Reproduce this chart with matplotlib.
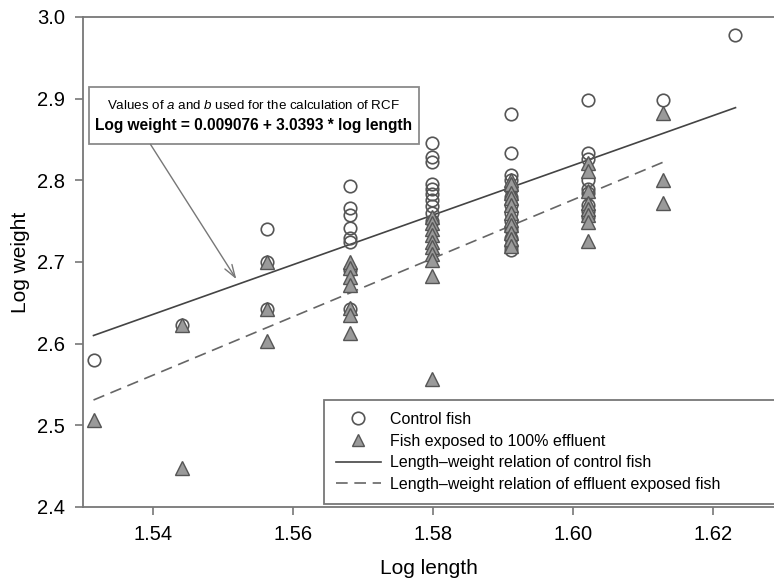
import matplotlib
matplotlib.use("Agg")
import matplotlib.pyplot as plt
from matplotlib.patches import Rectangle
from matplotlib.lines import Line2D

plt.rcParams['font.family'] = ['Liberation Sans', 'DejaVu Sans']
plt.rcParams['mathtext.fontset'] = 'custom'
plt.rcParams['mathtext.rm'] = 'Liberation Sans'
plt.rcParams['mathtext.it'] = 'Liberation Sans:italic'

# log length classes
len_34, len_35, len_36, len_37 = 1.5315, 1.5441, 1.5563, 1.5682
len_38, len_39, len_40, len_41, len_42 = 1.5798, 1.5911, 1.6021, 1.6128, 1.6232

# control fish (open circles)
ctrl_x = ([len_34] + [len_35] + [len_36] * 3 + [len_37] * 8 + [len_38] * 10 +
          [len_39] * 13 + [len_40] * 9 + [len_41] + [len_42])
ctrl_y = ([2.580] + [2.623] + [2.741, 2.700, 2.643] +
          [2.793, 2.766, 2.758, 2.742, 2.730, 2.724, 2.690, 2.643] +
          [2.846, 2.829, 2.822, 2.795, 2.789, 2.783, 2.776, 2.768, 2.760, 2.750] +
          [2.881, 2.833, 2.806, 2.800, 2.790, 2.780, 2.770, 2.760, 2.750, 2.740, 2.730, 2.720, 2.715] +
          [2.898, 2.833, 2.826, 2.800, 2.790, 2.785, 2.770, 2.762, 2.755] +
          [2.898] + [2.978])

# fish exposed to 100% effluent (grey triangles)
eff_x = ([len_34] + [len_35] * 2 + [len_36] * 3 + [len_37] * 7 + [len_38] * 10 +
         [len_39] * 11 + [len_40] * 8 + [len_41] * 3)
eff_y = ([2.506] + [2.623, 2.448] + [2.700, 2.643, 2.603] +
         [2.700, 2.693, 2.682, 2.672, 2.644, 2.635, 2.613] +
         [2.755, 2.748, 2.740, 2.733, 2.725, 2.718, 2.710, 2.703, 2.683, 2.557] +
         [2.800, 2.795, 2.785, 2.778, 2.770, 2.760, 2.752, 2.745, 2.735, 2.728, 2.720] +
         [2.821, 2.812, 2.787, 2.772, 2.765, 2.758, 2.749, 2.726] +
         [2.882, 2.801, 2.772])

# fitted length-weight relations (end points)
ctrl_fit_x = [len_34, len_42]
ctrl_fit_y = [2.610, 2.889]
eff_fit_x = [len_34, len_41]
eff_fit_y = [2.531, 2.822]

xticks = [1.54, 1.56, 1.58, 1.60, 1.62]
yticks = [2.4, 2.5, 2.6, 2.7, 2.8, 2.9, 3.0]

fig = plt.figure(figsize=(7.74, 5.84), dpi=100)
ax = fig.add_axes([83 / 774, 1 - 507 / 584, 1 - 83 / 774, 490 / 584])

ax.plot(ctrl_x, ctrl_y, 'o', ms=9, mfc='none', mec='#555555', mew=1.2, zorder=3)
ax.plot(eff_x, eff_y, '^', ms=9.5, mfc='#9a9a9a', mec='#555555', mew=1.0, zorder=4)
ax.plot(ctrl_fit_x, ctrl_fit_y, '-', color='#444444', lw=1.2, zorder=2)
ax.plot(eff_fit_x, eff_fit_y, '--', color='#666666', lw=1.2, dashes=(7, 4), zorder=2)

ax.set_xlim(1.53, 1.6287)
ax.set_ylim(2.4, 3.0)
ax.set_xticks(xticks)
ax.set_xticklabels(['%.2f' % t for t in xticks])
ax.set_yticks(yticks)
ax.set_yticklabels(['%.1f' % t for t in yticks])
ax.tick_params(direction='out', length=6, width=1.2, color='#777777', labelsize=14.5, pad=7)
for side in ['left', 'top', 'bottom']:
    ax.spines[side].set_color('#777777')
    ax.spines[side].set_linewidth(1.3)
ax.spines['right'].set_visible(False)

ax.set_xlabel('Log length', fontsize=15, labelpad=11)
ax.set_ylabel('Log weight', fontsize=15, labelpad=5)

# annotation box with equation
ax.add_patch(Rectangle((0.0087, 0.740), 0.478, 0.118, transform=ax.transAxes,
                       facecolor='white', edgecolor='#8a8a8a', lw=1.3, zorder=5))
ax.text(0.247, 0.820, r'Values of $a$ and $b$ used for the calculation of RCF',
        transform=ax.transAxes, ha='center', va='center', fontsize=9.6, zorder=6)
ax.text(0.247, 0.778, 'Log weight = 0.009076 + 3.0393 * log length',
        transform=ax.transAxes, ha='center', va='center', fontsize=11.2,
        fontweight='bold', zorder=6)
ax.annotate('', xy=(1.5519, 2.679), xycoords='data',
            xytext=(0.0977, 0.740), textcoords='axes fraction',
            arrowprops=dict(arrowstyle='->,head_length=0.9,head_width=0.3',
                            color='#777777', lw=1.0, shrinkA=0, shrinkB=0), zorder=5)

handles = [
    Line2D([], [], ls='none', marker='o', ms=9, mfc='none', mec='#555555', mew=1.2),
    Line2D([], [], ls='none', marker='^', ms=9, mfc='#9a9a9a', mec='#555555', mew=1.0),
    Line2D([], [], ls='-', color='#444444', lw=1.2),
    Line2D([], [], ls='--', color='#666666', lw=1.2, dashes=(7, 4)),
]
labels = ['Control fish', 'Fish exposed to 100% effluent',
          'Length\u2013weight relation of control fish',
          'Length\u2013weight relation of effluent exposed fish']
leg = ax.legend(handles, labels, loc='lower left', bbox_to_anchor=(0.349, 0.006, 0.66, 0.2),
                mode='expand', fontsize=11.5, frameon=True, fancybox=False,
                handlelength=2.8, handletextpad=0.6, labelspacing=0.42, borderpad=0.75,
                borderaxespad=0)
leg.get_frame().set_edgecolor('#555555')
leg.get_frame().set_linewidth(1.3)

fig.savefig('out.png', dpi=100)
